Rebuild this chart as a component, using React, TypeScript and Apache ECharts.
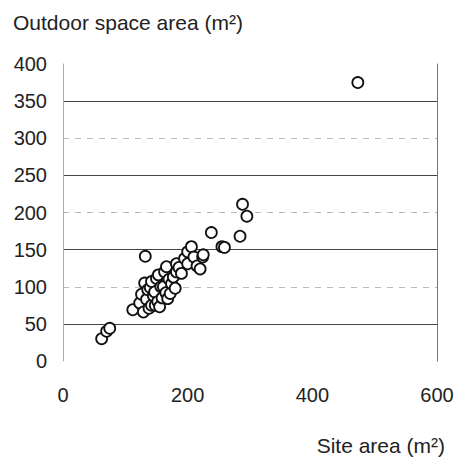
import React, { useEffect, useRef } from "react";
import * as echarts from "echarts";

const yTitle = "Outdoor space area (m²)";
const xTitle = "Site area (m²)";

const siteArea = [
  62, 70, 75,
  112, 123, 126, 129, 131, 132, 134, 136,
  138, 140, 142, 142, 145, 147, 148, 150, 152, 153, 155, 157, 159, 161, 163, 165, 166, 168, 170, 172, 174, 177, 180, 182, 182, 186, 190, 195, 200, 200, 206, 210, 215, 220, 224, 225,
  238, 255, 259, 284, 288, 295, 473,
];
const outdoorArea = [
  30, 40, 44,
  69, 78, 90, 66, 105, 141, 83, 96,
  71, 99, 75, 107, 88, 93, 75, 111, 80, 116, 73, 100, 85, 100, 120, 92, 127, 84, 110, 91, 104, 113, 98, 120, 131, 126, 118, 138, 131, 147, 154, 140, 128, 124, 140, 143,
  173, 154, 153, 168, 211, 195, 375,
];

const xTicks = [0, 200, 400, 600];
const yTicks = [0, 50, 100, 150, 200, 250, 300, 350, 400];

const FONT = "'Liberation Sans', Arial, sans-serif";

export default function App() {
  const ref = useRef<HTMLDivElement>(null);
  useEffect(() => {
    if (!ref.current) return;
    const chart = echarts.init(ref.current, null, { renderer: "svg" });
    const data = siteArea.map((x, i) => [x, outdoorArea[i]]);
    chart.setOption({
      animation: false,
      backgroundColor: "#fff",
      grid: { left: 63, right: 23, top: 64, bottom: 100 },
      xAxis: {
        type: "value",
        min: xTicks[0],
        max: xTicks[xTicks.length - 1],
        interval: 200,
        axisLine: { show: false },
        axisTick: { show: false },
        splitLine: { show: false },
        axisLabel: { fontSize: 20, color: "#222", fontFamily: FONT, margin: 24 },
      },
      yAxis: [
        {
          type: "value",
          min: yTicks[0],
          max: yTicks[yTicks.length - 1],
          interval: 50,
          axisLine: { show: true, lineStyle: { color: "#aaa", width: 1 } },
          axisTick: { show: false },
          splitLine: { show: true, lineStyle: { color: ["transparent", "#444"], width: 1.2 } },
          axisLabel: { fontSize: 20, color: "#222", fontFamily: FONT, margin: 16 },
        },
        {
          type: "value",
          position: "right",
          min: 0,
          max: 400,
          interval: 100,
          axisLine: { show: true, lineStyle: { color: "#777", width: 1 } },
          axisTick: { show: false },
          axisLabel: { show: false },
          splitLine: {
            show: true,
            lineStyle: { color: ["transparent", "#bbb", "#bbb", "#bbb", "transparent"], type: [6, 6], width: 1 },
          },
        },
      ],
      graphic: [
        {
          type: "text",
          left: 13,
          top: 12,
          style: { text: yTitle, fontSize: 21, fill: "#222", fontFamily: FONT },
        },
        {
          type: "text",
          right: 15,
          top: 435,
          style: { text: xTitle, fontSize: 21, fill: "#222", fontFamily: FONT },
        },
      ],
      series: [
        {
          type: "scatter",
          data,
          symbol: "circle",
          symbolSize: 11,
          itemStyle: { color: "#fff", borderColor: "#111", borderWidth: 1.8, opacity: 1 },
        },
      ],
    });
    return () => chart.dispose();
  }, []);
  return (
    <div
      ref={ref}
      style={{ position: "fixed", left: 0, top: 0, width: 460, height: 461 }}
    />
  );
}
